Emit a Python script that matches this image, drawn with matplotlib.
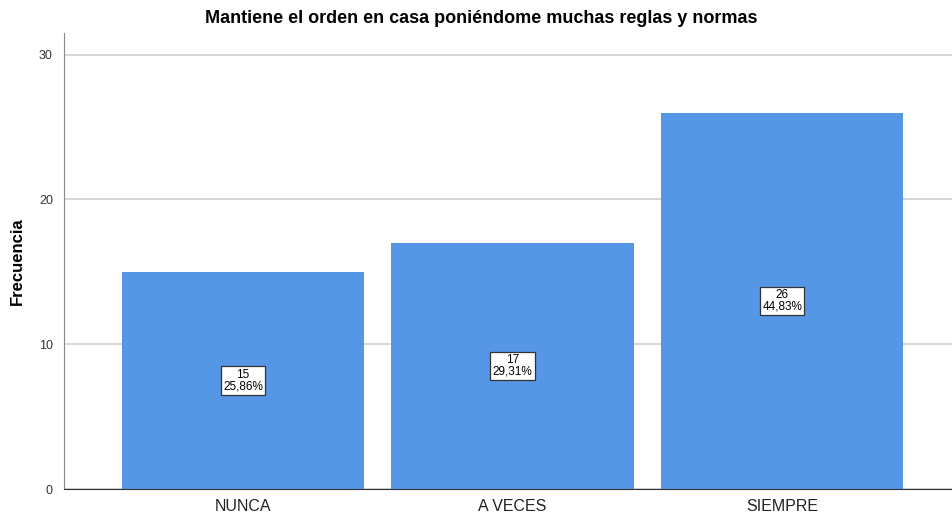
import matplotlib
matplotlib.use("Agg")
import matplotlib.pyplot as plt

categories = ['NUNCA', 'A VECES', 'SIEMPRE']
counts = [15, 17, 26]
percents = ['25,86%', '29,31%', '44,83%']
yticks = [0, 10, 20, 30]

plt.rcParams['font.family'] = ['Liberation Sans', 'DejaVu Sans']

fig = plt.figure(figsize=(9.52, 5.19), dpi=100)
ax = fig.add_axes([64 / 952, 1 - 489 / 519, 1 - 64 / 952, (489 - 33) / 519])

xpos = range(len(categories))
ax.bar(xpos, counts, width=0.9, color='#5596e5', zorder=2)
for x, c, p in zip(xpos, counts, percents):
    ax.text(x, c / 2, f'{c}\n{p}', ha='center', va='center', fontsize=8.5, linespacing=0.95,
            bbox=dict(boxstyle='square,pad=0.2', fc='white', ec='#333333', lw=0.9), zorder=3)

ax.set_xlim(-0.664, 2.63)
ax.set_ylim(0, 31.5)
ax.set_xticks(list(xpos))
ax.set_xticklabels(categories, fontsize=11.5, color='#222222')
ax.set_yticks(yticks)
ax.tick_params(axis='y', labelsize=9, length=0, pad=8, labelcolor='#333333')
ax.tick_params(axis='x', length=0, pad=7)
ax.yaxis.grid(True, color='#d0d0d0', lw=1.2, zorder=0)

for s in ['top', 'right']:
    ax.spines[s].set_visible(False)
ax.spines['left'].set_color('#888888')
ax.spines['bottom'].set_color('#333333')

ax.set_ylabel('Frecuencia', fontsize=12, fontweight='bold', labelpad=10)
fig.suptitle('Mantiene el orden en casa poniéndome muchas reglas y normas', fontsize=13,
             fontweight='bold', x=0.505, y=0.98)

fig.savefig('out.png', dpi=100)
